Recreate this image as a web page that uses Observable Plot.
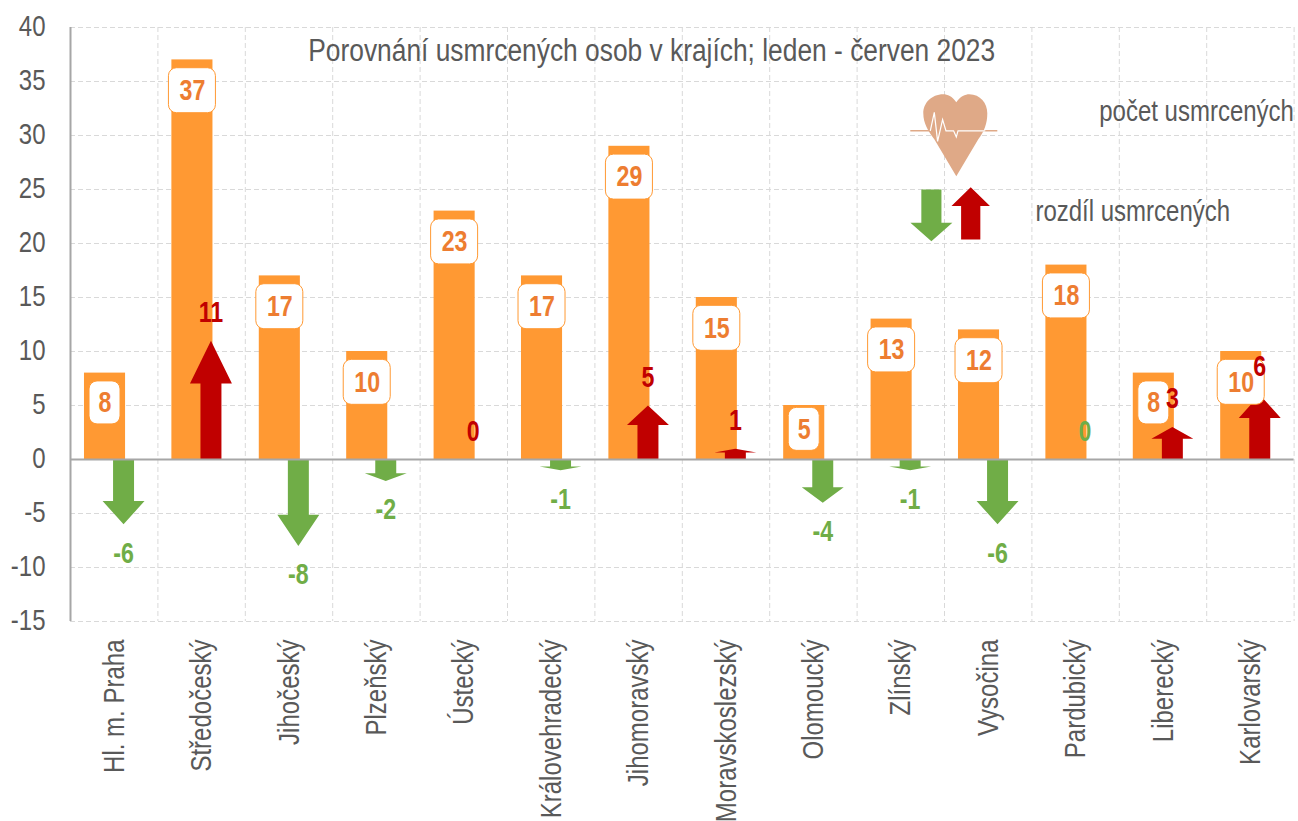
<!DOCTYPE html>
<html><head><meta charset="utf-8">
<script src="https://cdn.jsdelivr.net/npm/d3@7"></script>
<script src="https://cdn.jsdelivr.net/npm/@observablehq/plot@0.6"></script>
<style>html,body{margin:0;padding:0;background:#fff}svg{display:block}</style>
</head><body><div id="chart"></div>
<script>
const regions = ["Hl. m. Praha","Středočeský","Jihočeský","Plzeňský","Ústecký","Královehradecký","Jihomoravský","Moravskoslezský","Olomoucký","Zlínský","Vysočina","Pardubický","Liberecký","Karlovarský"];
const deaths = [8,37,17,10,23,17,29,15,5,13,12,18,8,10];
const diffs = [-6,11,-8,-2,0,-1,5,1,-4,-1,-6,0,3,6];
const zeroIsGood = [false,false,false,false,false,false,false,false,false,false,false,true,false,false];
const titleText = "Porovnání usmrcených osob v krajích; leden - červen 2023";
const legendCount = "počet usmrcených";
const legendDiff = "rozdíl usmrcených";
const yTicks = [-15,-10,-5,0,5,10,15,20,25,30,35,40];

const ORANGE="#FF9933", LABEL="#ED7D31", RED="#C00000", GREEN="#70AD47", TEXT="#595959", HEART="#DFA987";
const FONT='"Liberation Sans",Arial,sans-serif';

const rows = regions.map((r,i)=>({r,i,v:deaths[i],d:diffs[i],c:i+0.5,
  good: diffs[i]<0 || zeroIsGood[i]}));

function arrow(id,cx,base,tip,sw=0.12,hw=0.24){
  const neck = tip-(tip-base)*0.36;
  return [[cx-sw,base],[cx-sw,neck],[cx-hw,neck],[cx,tip],[cx+hw,neck],[cx+sw,neck],[cx+sw,base]]
    .map(([x,y])=>({id,x,y}));
}
const ARROW_OFF=0.107, BAR_OFF=-0.105, BAR_HALF=0.235;
const arrowsUp = rows.filter(d=>d.d>0).flatMap(d=>arrow(d.r,d.c+ARROW_OFF,0,d.d));
const arrowsDown = rows.filter(d=>d.d<0).flatMap(d=>arrow(d.r,d.c+ARROW_OFF,0,d.d));
const legendDown = arrow("g",9.85,25,20.2,0.115,0.24);
const legendUp = arrow("r",10.3,20.37,25.2,0.11,0.22);

const heartSymbol = {draw(c){
  c.moveTo(0,-31);c.bezierCurveTo(-4,-37,-9,-39,-13,-39);c.bezierCurveTo(-25,-39,-33,-30,-33,-20);
  c.bezierCurveTo(-33,-10,-28,-2,-22,6);c.lineTo(0,43);c.lineTo(22,6);
  c.bezierCurveTo(28,-2,31,-10,31,-20);c.bezierCurveTo(31,-30,24,-39,13,-39);c.bezierCurveTo(9,-39,4,-37,0,-31);c.closePath();
}};
const ecgOuter = {draw(c){c.moveTo(-46,-2.5);c.lineTo(41,-2.5);}};
const ecgInner = {draw(c){
  c.moveTo(-26,-2.5);c.lineTo(-22,-21);c.lineTo(-18.7,8);c.lineTo(-13.7,-13.7);c.lineTo(-10.3,-2.5);
  c.lineTo(-2.7,-2.5);c.lineTo(0,3.7);c.lineTo(1.7,-2.5);c.lineTo(29,-2.5);
}};
const heartAt=[{x:10.135,y:30.2}];

const boxW=d=>(d.v>=10?47:31)/87.4/2;
const boxH=d=>(d.v>=10?45:43)/10.8;
const boxTop=d=>Math.max(d.v-0.77, boxH(d)+0.8);

const chart = Plot.plot({
  width:1298,height:821,marginLeft:70,marginRight:4.4,marginTop:27,marginBottom:200,
  style:{fontFamily:FONT,background:"#fff",color:TEXT},
  x:{domain:[0,14],label:null},
  y:{domain:[-15,40],label:null},
  marks:[
    Plot.ruleY(yTicks,{stroke:"#D9D9D9",strokeDasharray:"5 3",strokeWidth:1,strokeOpacity:1}),
    Plot.ruleX(d3.range(1,15),{stroke:"#D9D9D9",strokeDasharray:"5 3",strokeWidth:1,strokeOpacity:1}),
    Plot.axisY({ticks:yTicks,tickSize:0,tickPadding:25,dy:-1,fontSize:30,label:null,fill:TEXT,tickFormat:d=>String(d)}),
    Plot.axisX({ticks:rows.map(d=>d.c),tickFormat:v=>regions[Math.floor(v)],tickRotate:-90,tickSize:0,tickPadding:18,fontSize:30,label:null,fill:TEXT}),
    Plot.rect(rows,{x1:d=>d.c+BAR_OFF-BAR_HALF,x2:d=>d.c+BAR_OFF+BAR_HALF,y1:0,y2:"v",fill:ORANGE}),
    Plot.ruleX([0],{y1:-15,y2:40,stroke:"#A6A6A6",strokeWidth:2}),
    Plot.line(arrowsUp,{x:"x",y:"y",z:"id",fill:RED,stroke:null,curve:"linear"}),
    Plot.line(arrowsDown,{x:"x",y:"y",z:"id",fill:GREEN,stroke:null,curve:"linear"}),
    Plot.ruleY([0],{stroke:"#A6A6A6",strokeWidth:2}),
    Plot.rect(rows,{x1:d=>d.c+BAR_OFF-boxW(d),x2:d=>d.c+BAR_OFF+boxW(d),
      y1:d=>boxTop(d),y2:d=>boxTop(d)-boxH(d),fill:"#fff",stroke:ORANGE,strokeWidth:1,rx:8,ry:8}),
    Plot.text(rows,{x:d=>d.c+BAR_OFF,y:d=>boxTop(d)-boxH(d)/2,text:d=>String(d.v),fill:LABEL,fontSize:29,fontWeight:"bold"}),
    Plot.text(rows,{x:d=>d.c+ARROW_OFF,y:"d",text:d=>String(d.d),fill:d=>d.good?GREEN:RED,fontSize:29,fontWeight:"bold",
      filter:d=>d.d>=0,dy:-28}),
    Plot.text(rows,{x:d=>d.c+ARROW_OFF,y:"d",text:d=>String(d.d),fill:GREEN,fontSize:29,fontWeight:"bold",
      filter:d=>d.d<0,dy:29}),
    Plot.line(legendDown,{x:"x",y:"y",z:"id",fill:GREEN,stroke:null}),
    Plot.line(legendUp,{x:"x",y:"y",z:"id",fill:RED,stroke:null}),
    Plot.dot(heartAt,{x:"x",y:"y",symbol:ecgOuter,r:1,stroke:HEART,fill:"none",strokeWidth:1.5}),
    Plot.dot(heartAt,{x:"x",y:"y",symbol:heartSymbol,r:1,fill:HEART,stroke:"none"}),
    Plot.dot(heartAt,{x:"x",y:"y",symbol:ecgInner,r:1,stroke:"#fff",fill:"none",strokeWidth:1.2}),
    Plot.text([titleText],{x:6.65,y:37.85,text:d=>d,fill:TEXT,fontSize:31}),
    Plot.text([legendCount],{x:11.77,y:32.2,text:d=>d,textAnchor:"start",fill:TEXT,fontSize:30}),
    Plot.text([legendDiff],{x:11.04,y:23,text:d=>d,textAnchor:"start",fill:TEXT,fontSize:30})
  ]
});
document.getElementById("chart").append(chart);
// The reference uses a condensed face: condense Liberation Sans horizontally.
chart.querySelectorAll("text").forEach(t=>{
  const s=parseFloat(getComputedStyle(t).fontSize);
  const f=s===31?0.85:0.8;
  t.setAttribute("textLength",t.getComputedTextLength()*f);
  t.setAttribute("lengthAdjust","spacingAndGlyphs");
});
</script></body></html>
